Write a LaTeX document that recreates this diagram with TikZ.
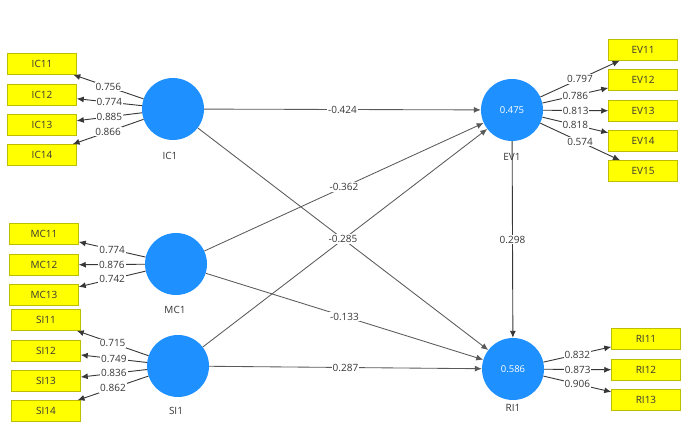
\documentclass[tikz,border=0pt]{standalone}
\usepackage{fontspec}
\setmainfont{Open Sans}
\usetikzlibrary{arrows.meta}
\definecolor{lvblue}{RGB}{30,144,255}
\definecolor{mvyellow}{RGB}{255,255,0}
\definecolor{mvborder}{RGB}{190,190,0}
\definecolor{txtgray}{RGB}{55,55,55}
\definecolor{pathgray}{RGB}{90,90,90}
\tikzset{
  x=1pt,y=-1pt,
  latent/.style={circle,fill=lvblue,draw=none,minimum size=62pt,inner sep=0pt,text=white,font=\fontsize{9.5}{10}\selectfont},
  mv/.style={rectangle,fill=mvyellow,draw=mvborder,line width=0.5pt,minimum width=69pt,minimum height=21pt,inner sep=0pt,text=txtgray,font=\fontsize{10}{11}\selectfont},
  lvname/.style={text=txtgray,font=\fontsize{10}{11}\selectfont,inner sep=0pt},
  load/.style={draw=txtgray,line width=0.9pt,-{Latex[length=7pt,width=6pt]}},
  pth/.style={draw=pathgray,line width=0.85pt,-{Latex[length=7pt,width=6pt]}},
  coef/.style={fill=white,inner sep=1pt,text=txtgray,font=\fontsize{10}{11}\selectfont},
}
\begin{document}
\begin{tikzpicture}
\useasboundingbox[fill=white] (0,0) rectangle (685,427);
% latent variables
\node[latent] (IC1) at (173,109) {};
\node[latent] (MC1) at (176,264) {};
\node[latent] (SI1) at (178,366) {};
\node[latent] (EV1) at (512,110) {0.475};
\node[latent] (RI1) at (513,369) {0.586};
\node[lvname] (IC1l) at (170,156) {IC1};
\node[lvname] (MC1l) at (175,310) {MC1};
\node[lvname] (SI1l) at (176,411) {SI1};
\node[lvname] (EV1l) at (512,157) {EV1};
\node[lvname] (RI1l) at (513,408) {RI1};
% indicators
\node[mv] (IC11) at (42,64) {IC11};
\node[mv] (IC12) at (42,95) {IC12};
\node[mv] (IC13) at (42,125) {IC13};
\node[mv] (IC14) at (42,155) {IC14};
\node[mv] (MC11) at (44,234) {MC11};
\node[mv] (MC12) at (44,265) {MC12};
\node[mv] (MC13) at (44,295) {MC13};
\node[mv] (SI11) at (46,320) {SI11};
\node[mv] (SI12) at (46,351) {SI12};
\node[mv] (SI13) at (46,381) {SI13};
\node[mv] (SI14) at (46,411) {SI14};
\node[mv] (EV11) at (643,50) {EV11};
\node[mv] (EV12) at (643,80) {EV12};
\node[mv] (EV13) at (643,111) {EV13};
\node[mv] (EV14) at (643,141) {EV14};
\node[mv] (EV15) at (643,171) {EV15};
\node[mv] (RI11) at (646,339) {RI11};
\node[mv] (RI12) at (646,370) {RI12};
\node[mv] (RI13) at (646,400) {RI13};
% outer loadings
\path[load] (IC1) -- node[coef]{0.756} (IC11);
\path[load] (IC1) -- node[coef]{0.774} (IC12);
\path[load] (IC1) -- node[coef]{0.885} (IC13);
\path[load] (IC1) -- node[coef]{0.866} (IC14);
\path[load] (MC1) -- node[coef]{0.774} (MC11);
\path[load] (MC1) -- node[coef]{0.876} (MC12);
\path[load] (MC1) -- node[coef]{0.742} (MC13);
\path[load] (SI1) -- node[coef]{0.715} (SI11);
\path[load] (SI1) -- node[coef]{0.749} (SI12);
\path[load] (SI1) -- node[coef]{0.836} (SI13);
\path[load] (SI1) -- node[coef]{0.862} (SI14);
\path[load] (EV1) -- node[coef]{0.797} (EV11);
\path[load] (EV1) -- node[coef]{0.786} (EV12);
\path[load] (EV1) -- node[coef]{0.813} (EV13);
\path[load] (EV1) -- node[coef]{0.818} (EV14);
\path[load] (EV1) -- node[coef]{0.574} (EV15);
\path[load] (RI1) -- node[coef]{0.832} (RI11);
\path[load] (RI1) -- node[coef]{0.873} (RI12);
\path[load] (RI1) -- node[coef]{0.906} (RI13);
% structural paths
\path[pth] (IC1) -- node[coef]{-0.424} (EV1);
\path[pth] (SI1) -- (EV1);
\path[pth] (IC1) -- node[coef]{-0.285} (RI1);
\path[pth] (MC1) -- node[coef]{-0.362} (EV1);
\path[pth] (MC1) -- node[coef]{-0.133} (RI1);
\path[pth] (SI1) -- node[coef]{0.287} (RI1);
\path[load] (EV1) -- node[coef]{0.298} (RI1);
\end{tikzpicture}
\end{document}
